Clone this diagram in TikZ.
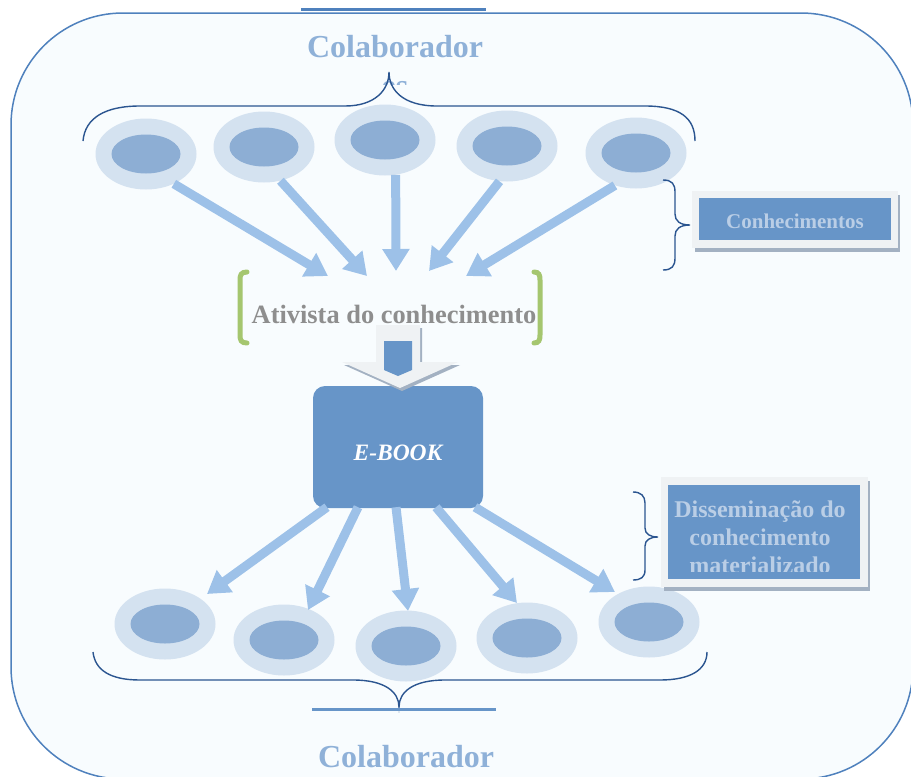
\documentclass[tikz,border=0pt]{standalone}
\usepackage{fontspec}
\setmainfont{Liberation Serif}
\usetikzlibrary{shapes.geometric,arrows.meta}
\definecolor{bgfill}{HTML}{F8FCFE}
\definecolor{framec}{HTML}{4F81BD}
\definecolor{colabc}{HTML}{8FB1D8}
\definecolor{bracec}{HTML}{2B5590}
\definecolor{outerE}{HTML}{D4E2F0}
\definecolor{innerE}{HTML}{8DAED4}
\definecolor{arrc}{HTML}{9DC1E8}
\definecolor{grayT}{HTML}{8E8E8E}
\definecolor{greenB}{HTML}{A5C66F}
\definecolor{boxblue}{HTML}{6795C8}
\definecolor{boxtext}{HTML}{BACEE6}
\definecolor{lightg}{HTML}{EFF2F4}
\definecolor{shadowg}{HTML}{A3B1C2}
\begin{document}
\begin{tikzpicture}[x=1pt,y=-1pt,
 ell/.style={ellipse, fill=outerE, minimum width=101pt, minimum height=71pt, inner sep=0pt,
   path picture={\fill[innerE] (path picture bounding box.center) ellipse [x radius=34.5pt, y radius=19.5pt];}},
 arr/.style={draw=arrc, line width=9pt, -{Triangle[width=26pt,length=22pt]}},
 brc/.style={draw=bracec, line width=1.4pt},
 grn/.style={draw=greenB, line width=5pt, line cap=round},
 colabtext/.style={text=colabc, font=\fontsize{32}{37}\selectfont\bfseries, anchor=base, inner sep=0pt},
 boxtxt/.style={text=boxtext, inner sep=0pt, anchor=base},
]
\path[use as bounding box] (0,0) rectangle (911,777);
\begin{scope}
\clip (0,0) rectangle (911,777);
\draw[framec, line width=1.5pt, fill=bgfill, rounded corners=112pt] (11,13) rectangle (913,779);
\end{scope}
% top line and title
\draw[framec, line width=3pt] (301,9) -- (486,9);
\node[colabtext] (colabtop) at (395,57) {Colaborador};
\begin{scope}
\clip (340,60) rectangle (450,84);
\node[colabtext] (es) at (395,96) {es};
\end{scope}
% top brace
\draw[brc] (83,141) .. controls (85,118) and (105,106) .. (140,106) -- (345,106)
  .. controls (375,106) and (389,90) .. (389,72)
  .. controls (389,90) and (403,106) .. (437,106) -- (645,106)
  .. controls (680,106) and (695,118) .. (695,141);
% top ellipses
\node[ell] (e1) at (146,154) {};
\node[ell] (e2) at (264,147) {};
\node[ell] (e3) at (385,140) {};
\node[ell] (e4) at (507,146) {};
\node[ell] (e5) at (636,153) {};
\coordinate (t1) at (328,276);
\coordinate (t2) at (367,276);
\coordinate (t3) at (396,271);
\coordinate (t4) at (429,271);
\coordinate (t5) at (466,276);
\draw[arr] (e1.-47) -- (t1);
\draw[arr] (e2.-64) -- (t2);
\draw[arr] (e3.-73) -- (t3);
\draw[arr] (e4.-102) -- (t4);
\draw[arr] (e5.-123) -- (t5);
% Conhecimentos
\draw[brc] (663,180) .. controls (672,180) and (675,184) .. (675,192) -- (675,214)
  .. controls (675,221) and (680,225) .. (690,225)
  .. controls (680,225) and (675,229) .. (675,236) -- (675,258)
  .. controls (675,266) and (672,270) .. (663,270);
\fill[shadowg] (695,195) rectangle (900,252);
\fill[lightg] (692,191) rectangle (898,248);
\node[fill=boxblue, minimum width=192pt, minimum height=42pt, inner sep=0pt,
  text=boxtext, font=\fontsize{21}{24}\selectfont\bfseries, text height=18pt, text depth=0pt]
  (cbox) at (795,219) {Conhecimentos};
% Ativista
\node[text=grayT, font=\fontsize{26.4}{30}\selectfont\bfseries, anchor=base, inner sep=0pt]
  (ativ) at (394,323) {Ativista do conhecimento};
\draw[grn] (247,272) .. controls (241,272) and (240,275) .. (240,280) -- (240,335)
  .. controls (240,340) and (241,343) .. (247,343);
\draw[grn] (534,272) .. controls (539,272) and (540,275) .. (540,280) -- (540,335)
  .. controls (540,340) and (539,343) .. (534,343);
% E-BOOK
\node[fill=boxblue, rounded corners=12pt, minimum width=170pt, minimum height=122pt, inner sep=0pt,
  text=white, font=\fontsize{23.5}{27}\selectfont\bfseries\itshape, text height=26pt, text depth=0pt]
  (eb) at (398,447) {E-BOOK};
% block arrow
\fill[shadowg] (378,328) -- (422,328) -- (422,365) -- (460,365) -- (402,391) -- (344,365) -- (378,365) -- cycle;
\fill[lightg] (376,325) -- (420,325) -- (420,362) -- (458,362) -- (400,388) -- (342,362) -- (376,362) -- cycle;
\fill[boxblue] (384,341) -- (412,341) -- (412,370) -- (398,376) -- (384,370) -- cycle;
% bottom ellipses
\node[ell] (b1) at (165,624) {};
\node[ell] (b2) at (284,640) {};
\node[ell] (b3) at (406,646) {};
\node[ell] (b4) at (527,638) {};
\node[ell] (b5) at (649,622) {};
\coordinate (u1) at (207,594);
\coordinate (u2) at (308,610);
\coordinate (u3) at (408,611);
\coordinate (u4) at (517,603);
\coordinate (u5) at (615,592);
\draw[arr] ([xshift=-71pt,yshift=1pt]eb.south) -- (u1);
\draw[arr] ([xshift=-40pt,yshift=1pt]eb.south) -- (u2);
\draw[arr] ([xshift=-2pt,yshift=1pt]eb.south) -- (u3);
\draw[arr] ([xshift=38pt,yshift=1pt]eb.south) -- (u4);
\draw[arr] ([xshift=77pt,yshift=1pt]eb.south) -- (u5);
% Disseminacao
\draw[brc] (633,492) .. controls (641,492) and (645,496) .. (645,503) -- (645,528)
  .. controls (645,534) and (650,537) .. (658,537)
  .. controls (650,537) and (645,540) .. (645,546) -- (645,570)
  .. controls (645,577) and (641,580) .. (633,580);
\fill[shadowg] (664,481) rectangle (870,591);
\fill[lightg] (661,477) rectangle (868,587);
\node[fill=boxblue, minimum width=192pt, minimum height=94pt, inner sep=0pt] (dbox) at (764,532) {};
\begin{scope}
\clip (668,485) rectangle (860,571);
\node[boxtxt, font=\fontsize{24}{28}\selectfont\bfseries] (d1) at (760,517) {Disseminação do};
\node[boxtxt, font=\fontsize{24}{28}\selectfont\bfseries] (d2) at (760,545) {conhecimento};
\node[boxtxt, font=\fontsize{24}{28}\selectfont\bfseries] (d3) at (760,573) {materializado};
\end{scope}
% bottom brace
\draw[brc] (93,652) .. controls (95,670) and (110,680) .. (140,680) -- (353,680)
  .. controls (385,680) and (399,692) .. (399,707)
  .. controls (399,692) and (413,680) .. (445,680) -- (660,680)
  .. controls (690,680) and (707,670) .. (707,652);
\draw[boxblue, line width=3pt] (312,709) -- (496,709);
\node[colabtext] (colabbot) at (406,767) {Colaborador};
\end{tikzpicture}
\end{document}
